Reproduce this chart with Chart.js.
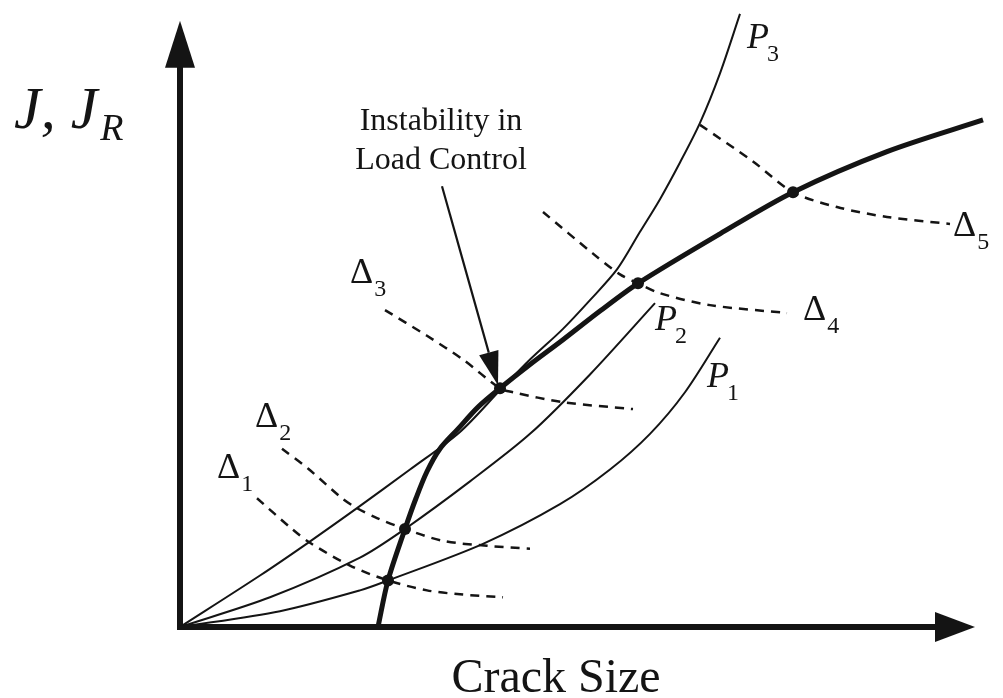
<!DOCTYPE html>
<html><head><meta charset="utf-8">
<script src="https://cdn.jsdelivr.net/npm/chart.js@4/dist/chart.umd.min.js"></script>
<style>html,body{margin:0;padding:0;background:#fff;}canvas{display:block;}</style>
</head><body>
<canvas id="c" width="1003" height="698"></canvas>
<script>
// ---- data (schematic units: crack size along x, J along y) ----
const p1X = [0, 100, 180, 208, 303, 380, 430, 470, 505, 540];
const p1Y = [0, 16, 37, 47, 84, 124, 159, 195, 237, 292];
const p2X = [0, 90, 180, 225, 290, 350, 410, 475];
const p2Y = [0, 30, 70, 99, 147, 195, 255, 327];
const p3X = [0, 80, 128, 177, 230, 280, 320, 350, 383, 410, 437, 460, 480, 500, 520, 540, 560];
const p3Y = [0, 52, 85, 120, 159, 197, 239, 270, 301, 330, 361, 399, 432, 469, 509, 559, 619];
const jrX = [198, 208, 225, 236, 247, 260, 278, 298, 320, 350, 383, 420, 458, 540, 613, 707, 803];
const jrY = [0, 47, 99, 130, 157, 180, 200, 222, 241, 265, 290, 319, 347, 397, 439, 480, 512];
const d1X = [77, 112, 130, 170, 208, 247, 280, 323];
const d1Y = [130, 99, 85, 62, 47, 37, 33, 30];
const d2X = [102, 128, 162, 177, 197, 225, 263, 307, 350];
const d2Y = [180, 160, 130, 120, 110, 99, 87, 82, 79];
const d3X = [205, 247, 283, 320, 333, 383, 453];
const d3Y = [320, 294, 270, 241, 237, 227, 220];
const d4X = [363, 413, 440, 458, 480, 530, 607];
const d4Y = [419, 377, 356, 347, 337, 325, 317];
const d5X = [520, 573, 613, 657, 707, 770];
const d5Y = [507, 470, 439, 424, 414, 407];
const dotX = [208, 225, 320, 458, 613];
const dotY = [47, 99, 241, 347, 439];
const axisLenX = 795, axisLenY = 612;

function pts(xs, ys){ return xs.map((x,i)=>({x:x, y:ys[i]})); }

const INK = '#141414';
const SERIF = '"Liberation Serif", "DejaVu Serif", serif';

function line(xs, ys, w, dash){
  return {data: pts(xs, ys), showLine: true, borderColor: INK, borderWidth: w,
    borderDash: dash || [], pointRadius: 0, tension: 0.3,
    fill: false, borderCapStyle: 'butt', borderJoinStyle: 'round'};
}

// label positions (data coords) kept in config
const labels = [
  {main:'P', sub:'3', x:567, y:585, italic:true},
  {main:'P', sub:'2', x:475, y:300, italic:true},
  {main:'P', sub:'1', x:527, y:242, italic:true},
  {main:'Δ', sub:'1', x:37, y:150, italic:false},
  {main:'Δ', sub:'2', x:75, y:202, italic:false},
  {main:'Δ', sub:'3', x:170, y:347, italic:false},
  {main:'Δ', sub:'4', x:623, y:310, italic:false},
  {main:'Δ', sub:'5', x:773, y:395, italic:false}
];

const drawPlugin = {
  id: 'schematic',
  beforeDatasetsDraw(chart){
    const ctx = chart.ctx, xs = chart.scales.x, ys = chart.scales.y;
    const x0 = xs.getPixelForValue(0), y0 = ys.getPixelForValue(0);
    const xe = xs.getPixelForValue(axisLenX), ye = ys.getPixelForValue(axisLenY);
    ctx.save();
    ctx.strokeStyle = INK; ctx.fillStyle = INK; ctx.lineWidth = 6; ctx.lineCap = 'butt';
    ctx.beginPath();
    ctx.moveTo(x0, y0 + 3); ctx.lineTo(x0, ye + 40);
    ctx.moveTo(x0 - 3, y0); ctx.lineTo(xe - 36, y0);
    ctx.stroke();
    ctx.beginPath();
    ctx.moveTo(x0, ye); ctx.lineTo(x0 - 15, ye + 47); ctx.lineTo(x0 + 15, ye + 47); ctx.closePath(); ctx.fill();
    ctx.beginPath();
    ctx.moveTo(xe, y0); ctx.lineTo(xe - 40, y0 - 15); ctx.lineTo(xe - 40, y0 + 15); ctx.closePath(); ctx.fill();
    ctx.restore();
  },
  afterDatasetsDraw(chart){
    const ctx = chart.ctx, xs = chart.scales.x, ys = chart.scales.y;
    ctx.save();
    ctx.fillStyle = INK; ctx.strokeStyle = INK;
    ctx.textBaseline = 'alphabetic';
    labels.forEach(l => {
      const px = xs.getPixelForValue(l.x), py = ys.getPixelForValue(l.y);
      ctx.font = (l.italic ? 'italic ' : '') + '36px ' + SERIF;
      ctx.textAlign = 'left';
      ctx.fillText(l.main, px, py);
      const w = ctx.measureText(l.main).width;
      ctx.font = '24px ' + SERIF;
      ctx.fillText(l.sub, px + w + (l.italic ? -2 : 1), py + 13);
    });
    // y axis title  J, J_R
    ctx.font = 'italic 60px ' + SERIF;
    ctx.textAlign = 'left';
    const tx = 14, tyb = 128;
    ctx.fillText('J, J', tx, tyb);
    const wj = ctx.measureText('J, J').width;
    ctx.font = 'italic 38px ' + SERIF;
    ctx.fillText('R', tx + wj + 3, tyb + 12);
    // x axis title
    ctx.font = '48px ' + SERIF;
    ctx.textAlign = 'center';
    ctx.fillText('Crack Size', 556, 692);
    // annotation
    ctx.font = '32px ' + SERIF;
    ctx.fillText('Instability in', 441, 130);
    ctx.fillText('Load Control', 441, 169);
    const ax0 = xs.getPixelForValue(262), ay0 = ys.getPixelForValue(445);
    const ax1 = xs.getPixelForValue(318), ay1 = ys.getPixelForValue(244);
    const ang = Math.atan2(ay1 - ay0, ax1 - ax0);
    const L = 34, H = 10;
    const bx = ax1 - L * Math.cos(ang), by = ay1 - L * Math.sin(ang);
    ctx.lineWidth = 2.2;
    ctx.beginPath(); ctx.moveTo(ax0, ay0); ctx.lineTo(bx, by); ctx.stroke();
    ctx.beginPath();
    ctx.moveTo(ax1, ay1);
    ctx.lineTo(bx + H * Math.sin(ang), by - H * Math.cos(ang));
    ctx.lineTo(bx - H * Math.sin(ang), by + H * Math.cos(ang));
    ctx.closePath(); ctx.fill();
    ctx.restore();
  }
};

new Chart(document.getElementById('c'), {
  type: 'scatter',
  data: {
    datasets: [
      {data: pts(dotX, dotY), showLine: false, pointRadius: 6, pointBackgroundColor: INK, pointBorderColor: INK, pointBorderWidth: 0},
      line(jrX, jrY, 5),
      line(p1X, p1Y, 2),
      line(p2X, p2Y, 2),
      line(p3X, p3Y, 2),
      line(d1X, d1Y, 2.5, [9, 7]),
      line(d2X, d2Y, 2.5, [9, 7]),
      line(d3X, d3Y, 2.5, [9, 7]),
      line(d4X, d4Y, 2.5, [9, 7]),
      line(d5X, d5Y, 2.5, [9, 7])
    ]
  },
  options: {
    responsive: false, animation: false, devicePixelRatio: 1,
    layout: {padding: {left: 180, top: 0, right: 13, bottom: 71}},
    scales: {
      x: {type: 'linear', display: false, min: 0, max: 810},
      y: {type: 'linear', display: false, min: 0, max: 627}
    },
    plugins: {legend: {display: false}, tooltip: {enabled: false}},
    events: []
  },
  plugins: [drawPlugin]
});
</script>
</body></html>
